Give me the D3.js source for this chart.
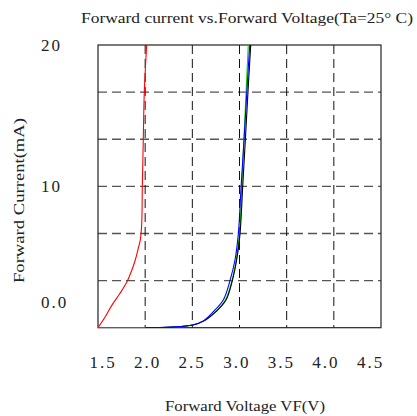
<!DOCTYPE html>
<html>
<head>
<meta charset="utf-8">
<script src="https://cdn.jsdelivr.net/npm/d3@7"></script>
<style>
  body { margin: 0; background: #fff; }
  text { font-family: "Liberation Serif", "DejaVu Serif", serif; fill: #222; }
</style>
</head>
<body>
<div id="chart"></div>
<script>
// Forward voltage (V) / forward current (mA)
var redV   = [1.50, 1.57, 1.648, 1.73, 1.807, 1.86, 1.895, 1.93, 1.948, 1.963, 1.97, 1.98, 1.991, 2.016];
var redI   = [0, 0.7, 1.6, 2.4, 3.25, 4.1, 4.79, 5.7, 6.2, 7.3, 10, 13.3, 16.7, 20];

var greenV = [1.5, 2.0, 2.3, 2.507, 2.63, 2.746, 2.85, 2.92, 2.965, 3.0, 3.024, 3.047, 3.07, 3.093];
var greenI = [0, 0, 0.04, 0.19, 0.5, 1.13, 1.96, 3.33, 4.79, 6.6, 10, 13.3, 16.7, 20];

var blackV = [2.0, 2.3, 2.507, 2.63, 2.75, 2.857, 2.924, 2.97, 3.005, 3.034, 3.062, 3.09, 3.119];
var blackI = [0, 0.04, 0.19, 0.5, 1.13, 1.96, 3.33, 4.79, 6.6, 10, 13.3, 16.7, 20];

var blueV  = [2.0, 2.26, 2.5, 2.62, 2.722, 2.828, 2.899, 2.952, 2.987, 3.017, 3.048, 3.078, 3.108];
var blueI  = [0, 0.05, 0.19, 0.5, 1.13, 1.96, 3.33, 4.79, 6.6, 10, 13.3, 16.7, 20];

var xTicks = [1.5, 2.0, 2.5, 3.0, 3.5, 4.0, 4.5];
var xTickLabels = ["1.5", "2.0", "2.5", "3.0", "3.5", "4.0", "4.5"];
var yGrid = [20 / 6, 40 / 6, 60 / 6, 80 / 6, 100 / 6];
var yTicks = [20, 10, 0];
var yTickLabels = ["20", "10", "0.0"];

var width = 417, height = 416;
var plotL = 98, plotR = 381, plotT = 45, plotB = 327.7;

var svg = d3.select("#chart").append("svg")
  .attr("width", width)
  .attr("height", height);

var x = d3.scaleLinear().domain([1.5, 4.5]).range([plotL, plotR]);
var y = d3.scaleLinear().domain([0, 20]).range([plotB, plotT]);
// the printed tick labels sit on a slightly narrower scale than the grid
var xLab = d3.scaleLinear().domain([1.5, 4.5]).range([plotL + 4.5, plotR - 11]);

svg.append("defs").append("clipPath").attr("id", "clip")
  .append("rect")
  .attr("x", plotL).attr("y", plotT)
  .attr("width", plotR - plotL).attr("height", plotB - plotT);

// horizontal grid
svg.selectAll(".hgrid")
  .data(yGrid)
  .enter().append("line")
  .attr("class", "hgrid")
  .attr("x1", plotL).attr("x2", plotR)
  .attr("y1", function(d) { return y(d); })
  .attr("y2", function(d) { return y(d); })
  .style("stroke", "#555")
  .style("stroke-width", 1.4)
  .style("stroke-dasharray", "9,5");

// vertical grid
svg.selectAll(".vgrid")
  .data(xTicks.slice(1, -1))
  .enter().append("line")
  .attr("class", "vgrid")
  .attr("y1", plotT).attr("y2", plotB)
  .attr("x1", function(d) { return x(d); })
  .attr("x2", function(d) { return x(d); })
  .style("stroke", "#111")
  .style("stroke-width", 1)
  .style("stroke-dasharray", "9,5");

// frame
svg.append("rect")
  .attr("x", plotL).attr("y", plotT)
  .attr("width", plotR - plotL).attr("height", plotB - plotT)
  .style("fill", "none")
  .style("stroke", "#222")
  .style("stroke-width", 1.2);

var line = d3.line()
  .x(function(d) { return x(d[0]); })
  .y(function(d) { return y(d[1]); })
  .curve(d3.curveCatmullRom.alpha(0.5));

var series = [
  { v: redV, i: redI, color: "#ff0000" },
  { v: greenV, i: greenI, color: "#00d800" },
  { v: blackV, i: blackI, color: "#000000" },
  { v: blueV, i: blueI, color: "#0000ff" }
];

svg.append("g").attr("clip-path", "url(#clip)")
  .selectAll("path")
  .data(series)
  .enter().append("path")
  .attr("d", function(s) { return line(d3.zip(s.v, s.i)); })
  .style("fill", "none")
  .style("stroke", function(s) { return s.color; })
  .style("stroke-width", 1.1);

// x tick labels
svg.append("g")
  .attr("transform", "translate(0,362)")
  .call(d3.axisBottom(xLab).tickValues(xTicks).tickSize(0)
    .tickFormat(function(d, i) { return xTickLabels[i]; }))
  .call(function(g) {
    g.select(".domain").remove();
    g.selectAll("text")
      .attr("dy", "0.35em").attr("y", 0)
      .style("font-family", "Liberation Serif")
      .style("font-size", "17px")
      .style("letter-spacing", "2px")
      .style("fill", "#222");
  });

// y tick labels ("0.0" is printed well above the axis in the original)
svg.selectAll(".ylab")
  .data(yTicks)
  .enter().append("text")
  .attr("class", "ylab")
  .attr("x", 41)
  .attr("y", function(d) { return y(d) + (d === 0 ? -26 : 0); })
  .attr("dy", "0.35em")
  .style("font-size", "17px")
  .style("letter-spacing", "2px")
  .text(function(d, i) { return yTickLabels[i]; });

// titles
svg.append("text")
  .attr("x", 81).attr("y", 18)
  .attr("dy", "0.35em")
  .attr("textLength", 332)
  .attr("lengthAdjust", "spacingAndGlyphs")
  .style("font-size", "15px")
  .text("Forward current vs.Forward Voltage(Ta=25° C)");

svg.append("text")
  .attr("x", 165).attr("y", 406)
  .attr("dy", "0.35em")
  .attr("textLength", 160)
  .attr("lengthAdjust", "spacingAndGlyphs")
  .style("font-size", "15px")
  .text("Forward Voltage VF(V)");

svg.append("text")
  .attr("transform", "translate(19,283) rotate(-90)")
  .attr("dy", "0.35em")
  .attr("textLength", 165)
  .attr("lengthAdjust", "spacingAndGlyphs")
  .style("font-size", "15px")
  .text("Forward Current(mA)");
</script>
</body>
</html>
